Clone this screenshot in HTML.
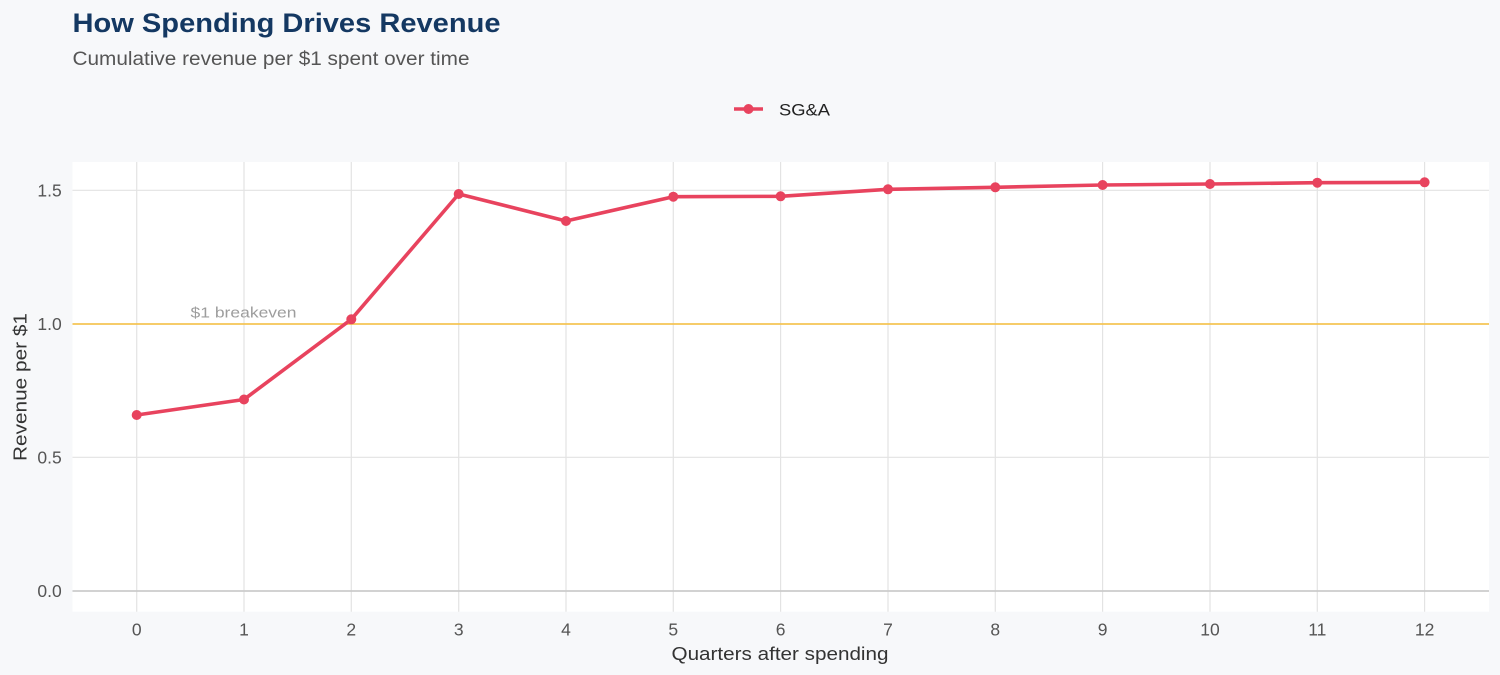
<!DOCTYPE html>
<html><head><meta charset="utf-8"><style>
html,body{margin:0;padding:0;background:#f7f8fa;}
svg{display:block;}
text{font-family:"Liberation Sans",Arial,sans-serif;}
</style></head><body>
<svg width="1500" height="675" viewBox="0 0 1500 675" xmlns="http://www.w3.org/2000/svg">
<rect x="0" y="0" width="1500" height="675" fill="#f7f8fa"/>
<text x="72.5" y="32" font-size="26.5" font-weight="bold" fill="#143862" textLength="428" lengthAdjust="spacingAndGlyphs">How Spending Drives Revenue</text>
<text x="72.5" y="65" font-size="19" fill="#555" textLength="397" lengthAdjust="spacingAndGlyphs">Cumulative revenue per $1 spent over time</text>
<!-- legend -->
<line x1="734" y1="109" x2="763" y2="109" stroke="#e8435e" stroke-width="3.5"/>
<circle cx="748.5" cy="109" r="5" fill="#e8435e"/>
<text x="779" y="115.5" font-size="17" fill="#222" textLength="51" lengthAdjust="spacingAndGlyphs">SG&amp;A</text>
<!-- panel -->
<rect x="72.5" y="162" width="1416.5" height="449.7" fill="#ffffff"/>
<g stroke="#e3e3e3" stroke-width="1.2">
<line x1="72.5" y1="190.3" x2="1489" y2="190.3"/>
<line x1="72.5" y1="457.3" x2="1489" y2="457.3"/>
<line x1="136.7" y1="162" x2="136.7" y2="611.7"/>
<line x1="244" y1="162" x2="244" y2="611.7"/>
<line x1="351.3" y1="162" x2="351.3" y2="611.7"/>
<line x1="458.7" y1="162" x2="458.7" y2="611.7"/>
<line x1="566" y1="162" x2="566" y2="611.7"/>
<line x1="673.3" y1="162" x2="673.3" y2="611.7"/>
<line x1="780.6" y1="162" x2="780.6" y2="611.7"/>
<line x1="888" y1="162" x2="888" y2="611.7"/>
<line x1="995.3" y1="162" x2="995.3" y2="611.7"/>
<line x1="1102.6" y1="162" x2="1102.6" y2="611.7"/>
<line x1="1210" y1="162" x2="1210" y2="611.7"/>
<line x1="1317.3" y1="162" x2="1317.3" y2="611.7"/>
<line x1="1424.6" y1="162" x2="1424.6" y2="611.7"/>
</g>
<line x1="72.5" y1="591" x2="1489" y2="591" stroke="#cbcbcb" stroke-width="1.8"/>
<line x1="72.5" y1="324" x2="1489" y2="324" stroke="#f5c454" stroke-width="1.8"/>
<text x="243.5" y="317.5" font-size="14.5" fill="#9d9d9d" text-anchor="middle" textLength="106" lengthAdjust="spacingAndGlyphs">$1 breakeven</text>
<!-- series -->
<polyline fill="none" stroke="#e8435e" stroke-width="3.6" stroke-linejoin="round" points="136.7,415 244,399.5 351.3,319.3 458.7,194 566,221 673.3,196.7 780.6,196.3 888,189.3 995.3,187.3 1102.6,185 1210,184 1317.3,182.7 1424.6,182.3"/>
<g fill="#e8435e">
<circle cx="136.7" cy="415" r="5"/>
<circle cx="244" cy="399.5" r="5"/>
<circle cx="351.3" cy="319.3" r="5"/>
<circle cx="458.7" cy="194" r="5"/>
<circle cx="566" cy="221" r="5"/>
<circle cx="673.3" cy="196.7" r="5"/>
<circle cx="780.6" cy="196.3" r="5"/>
<circle cx="888" cy="189.3" r="5"/>
<circle cx="995.3" cy="187.3" r="5"/>
<circle cx="1102.6" cy="185" r="5"/>
<circle cx="1210" cy="184" r="5"/>
<circle cx="1317.3" cy="182.7" r="5"/>
<circle cx="1424.6" cy="182.3" r="5"/>
</g>
<!-- y ticks -->
<g font-size="17.5" fill="#555" text-anchor="end">
<text x="61.7" y="196.5">1.5</text>
<text x="61.7" y="330.2">1.0</text>
<text x="61.7" y="463.5">0.5</text>
<text x="61.7" y="597.2">0.0</text>
</g>
<!-- x ticks -->
<g font-size="17.5" fill="#555" text-anchor="middle">
<text x="136.7" y="635.5">0</text>
<text x="244" y="635.5">1</text>
<text x="351.3" y="635.5">2</text>
<text x="458.7" y="635.5">3</text>
<text x="566" y="635.5">4</text>
<text x="673.3" y="635.5">5</text>
<text x="780.6" y="635.5">6</text>
<text x="888" y="635.5">7</text>
<text x="995.3" y="635.5">8</text>
<text x="1102.6" y="635.5">9</text>
<text x="1210" y="635.5">10</text>
<text x="1317.3" y="635.5">11</text>
<text x="1424.6" y="635.5">12</text>
</g>
<text x="780" y="660" font-size="18.5" fill="#333" text-anchor="middle" textLength="217" lengthAdjust="spacingAndGlyphs">Quarters after spending</text>
<text transform="translate(26.5,387) rotate(-90)" x="0" y="0" font-size="18.5" fill="#333" text-anchor="middle" textLength="148" lengthAdjust="spacingAndGlyphs">Revenue per $1</text>
</svg>
</body></html>
